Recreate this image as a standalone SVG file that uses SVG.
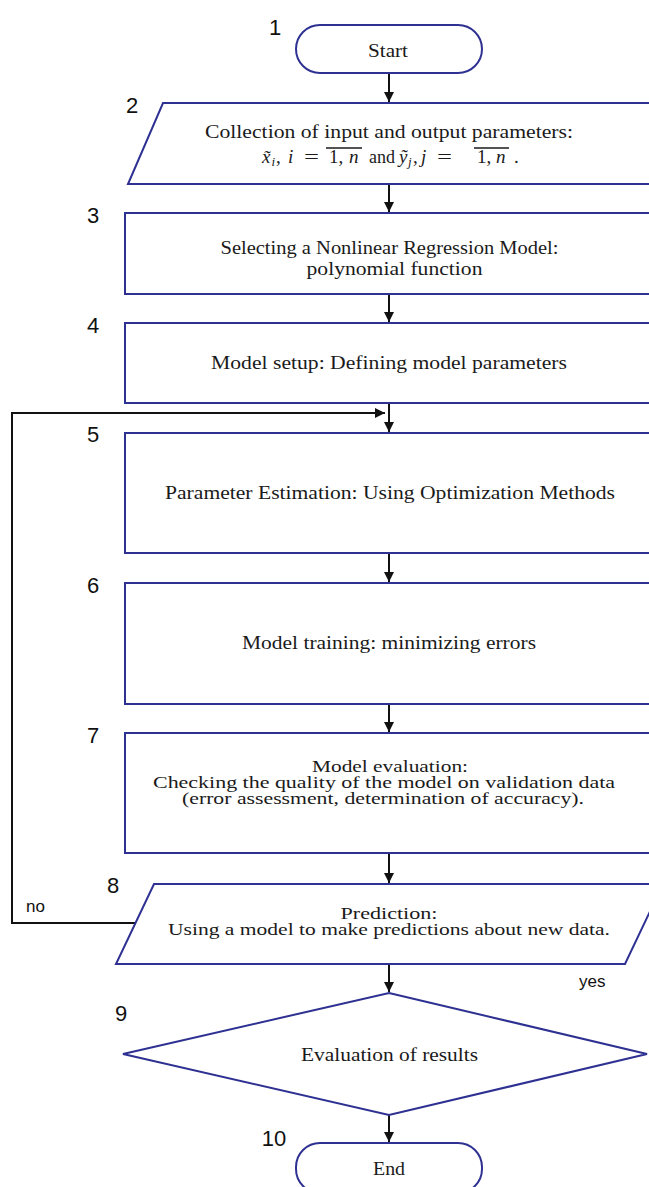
<svg xmlns="http://www.w3.org/2000/svg" width="649" height="1187" viewBox="0 0 649 1187">
<defs>
<marker id="ah" markerUnits="userSpaceOnUse" markerWidth="10" markerHeight="10" refX="10" refY="5" orient="auto">
<path d="M0,0 L10,5 L0,10 z" fill="#111"/>
</marker>
<style>
.shape{fill:#fff;stroke:#2e3192;stroke-width:2;stroke-linejoin:miter}
.t{font-family:"Liberation Serif","Times New Roman",serif;font-size:18px;fill:#1a1a1a;text-anchor:middle}
.s{font-size:16px}
.m{font-family:"Liberation Serif","Times New Roman",serif;font-size:19px;fill:#1a1a1a}
.mi{font-style:italic}
.sub{font-size:13px}
.num{font-family:"Liberation Sans",Arial,sans-serif;font-size:22px;fill:#111;text-anchor:middle}
.lbl{font-family:"Liberation Sans",Arial,sans-serif;font-size:17px;fill:#111}
.conn{stroke:#111;stroke-width:2;fill:none;marker-end:url(#ah)}
.ov{stroke:#1a1a1a;stroke-width:1.3}
</style>
</defs>
<rect width="649" height="1187" fill="#fff"/>

<g id="connectors">
<line class="conn" x1="389" y1="73" x2="389" y2="102"/>
<line class="conn" x1="389" y1="184" x2="389" y2="212"/>
<line class="conn" x1="389" y1="294" x2="389" y2="322"/>
<line class="conn" x1="389" y1="403" x2="389" y2="432"/>
<line class="conn" x1="389" y1="553" x2="389" y2="582"/>
<line class="conn" x1="389" y1="704" x2="389" y2="732"/>
<line class="conn" x1="389" y1="853" x2="389" y2="883"/>
<line class="conn" x1="389" y1="964" x2="389" y2="992"/>
<line class="conn" x1="389" y1="1115" x2="389" y2="1142"/>
<polyline class="conn" points="135,923 12,923 12,413 385,413"/>
<text class="lbl" x="26" y="912">no</text>
<text class="lbl" x="579" y="987">yes</text>
</g>

<g id="node1">
<rect class="shape" x="296" y="25" width="186" height="48" rx="24" ry="24"/>
<text class="t" x="388" y="57" textLength="40" lengthAdjust="spacingAndGlyphs">Start</text>
<text class="num" x="275" y="35">1</text>
</g>

<g id="node2">
<polygon class="shape" points="163,103 700,103 665,184 128,184"/>
<text class="num" x="132" y="113">2</text>
<text class="t" x="389" y="138" textLength="368" lengthAdjust="spacingAndGlyphs">Collection of input and output parameters:</text>
<text class="m mi" x="262" y="163">x&#771;</text>
<text class="m mi sub" x="271.5" y="166">i</text>
<text class="m" x="276" y="163">,</text>
<text class="m mi" x="288" y="163">i</text>
<text class="m" x="304" y="163" textLength="15" lengthAdjust="spacingAndGlyphs">=</text>
<text class="m" x="329" y="163">1,</text>
<text class="m mi" x="349" y="163">n</text>
<line class="ov" x1="326" y1="148" x2="362" y2="148"/>
<text class="t" x="382" y="163" textLength="26" lengthAdjust="spacingAndGlyphs">and</text>
<text class="m mi" x="399" y="163">y&#771;</text>
<text class="m mi sub" x="408" y="166">j</text>
<text class="m" x="413" y="163">,</text>
<text class="m mi" x="421" y="163">j</text>
<text class="m" x="437" y="163" textLength="15" lengthAdjust="spacingAndGlyphs">=</text>
<text class="m" x="477" y="163">1,</text>
<text class="m mi" x="496" y="163">n</text>
<line class="ov" x1="474" y1="148" x2="509" y2="148"/>
<text class="m" x="514" y="163">.</text>
</g>

<g id="node3">
<rect class="shape" x="125" y="213" width="560" height="81"/>
<text class="num" x="93" y="223">3</text>
<text class="t" x="389.5" y="254" textLength="338" lengthAdjust="spacingAndGlyphs">Selecting a Nonlinear Regression Model:</text>
<text class="t" x="394.5" y="275" textLength="176" lengthAdjust="spacingAndGlyphs">polynomial function</text>
</g>

<g id="node4">
<rect class="shape" x="125" y="323" width="560" height="80"/>
<text class="num" x="93" y="333">4</text>
<text class="t" x="389" y="369" textLength="356" lengthAdjust="spacingAndGlyphs">Model setup: Defining model parameters</text>
</g>

<g id="node5">
<rect class="shape" x="125" y="433" width="560" height="120"/>
<text class="num" x="93" y="442">5</text>
<text class="t" x="390" y="499" textLength="450" lengthAdjust="spacingAndGlyphs">Parameter Estimation: Using Optimization Methods</text>
</g>

<g id="node6">
<rect class="shape" x="125" y="583" width="560" height="121"/>
<text class="num" x="93" y="593">6</text>
<text class="t" x="389" y="649" textLength="294" lengthAdjust="spacingAndGlyphs">Model training: minimizing errors</text>
</g>

<g id="node7">
<rect class="shape" x="125" y="733" width="560" height="120"/>
<text class="num" x="93" y="743">7</text>
<text class="t s" x="390" y="772" textLength="156" lengthAdjust="spacingAndGlyphs">Model evaluation:</text>
<text class="t s" x="384" y="788" textLength="462" lengthAdjust="spacingAndGlyphs">Checking the quality of the model on validation data</text>
<text class="t s" x="383" y="804" textLength="402" lengthAdjust="spacingAndGlyphs">(error assessment, determination of accuracy).</text>
</g>

<g id="node8">
<polygon class="shape" points="154,884 663,884 625,964 116,964"/>
<text class="num" x="113" y="893">8</text>
<text class="t s" x="389" y="919" textLength="97" lengthAdjust="spacingAndGlyphs">Prediction:</text>
<text class="t s" x="389" y="935" textLength="442" lengthAdjust="spacingAndGlyphs">Using a model to make predictions about new data.</text>
</g>

<g id="node9">
<polygon class="shape" points="389,993 647,1054 389,1115 123,1054"/>
<text class="num" x="121" y="1021">9</text>
<text class="t" x="389.5" y="1061" textLength="177" lengthAdjust="spacingAndGlyphs">Evaluation of results</text>
</g>

<g id="node10">
<rect class="shape" x="296" y="1143" width="186" height="50" rx="24" ry="24"/>
<text class="num" x="274" y="1146">10</text>
<text class="t" x="389" y="1175" textLength="32" lengthAdjust="spacingAndGlyphs">End</text>
</g>
</svg>
